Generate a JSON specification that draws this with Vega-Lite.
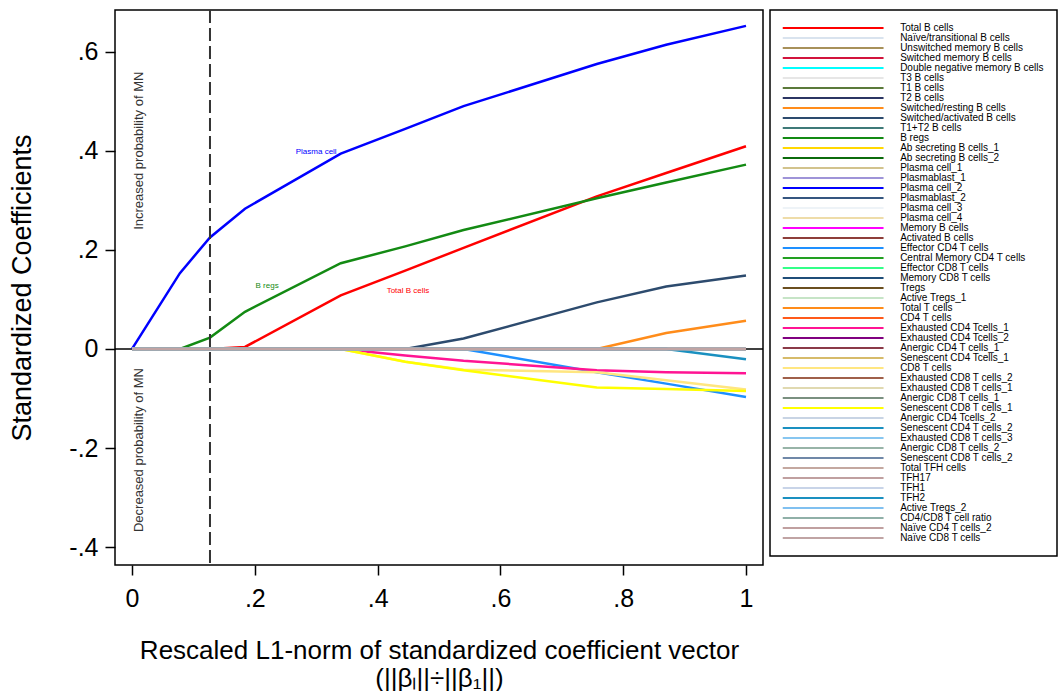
{
  "$schema": "https://vega.github.io/schema/vega-lite/v6.json",
  "width": 648,
  "height": 555,
  "padding": {"left": 8, "top": 9, "right": 0, "bottom": 0},
  "background": "white",
  "config": {
    "font": "Liberation Sans",
    "view": {"stroke": "black", "strokeWidth": 1.5},
    "axis": {
      "grid": false,
      "domain": false,
      "tickColor": "black",
      "tickWidth": 1.5,
      "tickSize": 10,
      "labelColor": "black",
      "titleColor": "black",
      "labelFont": "Liberation Sans",
      "titleFont": "Liberation Sans",
      "labelFontSize": 25,
      "titleFontSize": 27,
      "titleFontWeight": "normal"
    },
    "legend": {"strokeWidth": 1.5}
  },
  "datasets": {
    "paths": [
      {"cell": "Total B cells", "x": 0, "y": 0},
      {"cell": "Total B cells", "x": 0.127, "y": 0},
      {"cell": "Total B cells", "x": 0.184, "y": 0.004},
      {"cell": "Total B cells", "x": 0.34, "y": 0.108},
      {"cell": "Total B cells", "x": 0.445, "y": 0.158},
      {"cell": "Total B cells", "x": 0.54, "y": 0.204},
      {"cell": "Total B cells", "x": 0.757, "y": 0.308},
      {"cell": "Total B cells", "x": 0.87, "y": 0.355},
      {"cell": "Total B cells", "x": 1, "y": 0.409},
      {"cell": "Naïve/transitional B cells", "x": 0, "y": 0},
      {"cell": "Naïve/transitional B cells", "x": 1, "y": 0},
      {"cell": "Unswitched memory B cells", "x": 0, "y": 0},
      {"cell": "Unswitched memory B cells", "x": 1, "y": 0},
      {"cell": "Switched memory B cells", "x": 0, "y": 0},
      {"cell": "Switched memory B cells", "x": 1, "y": 0},
      {"cell": "Double negative memory B cells", "x": 0, "y": 0},
      {"cell": "Double negative memory B cells", "x": 1, "y": 0},
      {"cell": "T3 B cells", "x": 0, "y": 0},
      {"cell": "T3 B cells", "x": 1, "y": 0},
      {"cell": "T1 B cells", "x": 0, "y": 0},
      {"cell": "T1 B cells", "x": 1, "y": 0},
      {"cell": "T2 B cells", "x": 0, "y": 0},
      {"cell": "T2 B cells", "x": 1, "y": 0},
      {"cell": "Switched/resting B cells", "x": 0, "y": 0},
      {"cell": "Switched/resting B cells", "x": 0.757, "y": 0},
      {"cell": "Switched/resting B cells", "x": 0.87, "y": 0.032},
      {"cell": "Switched/resting B cells", "x": 1, "y": 0.057},
      {"cell": "Switched/activated B cells", "x": 0, "y": 0},
      {"cell": "Switched/activated B cells", "x": 0.445, "y": 0},
      {"cell": "Switched/activated B cells", "x": 0.54, "y": 0.021},
      {"cell": "Switched/activated B cells", "x": 0.757, "y": 0.094},
      {"cell": "Switched/activated B cells", "x": 0.87, "y": 0.126},
      {"cell": "Switched/activated B cells", "x": 1, "y": 0.148},
      {"cell": "T1+T2 B cells", "x": 0, "y": 0},
      {"cell": "T1+T2 B cells", "x": 1, "y": 0},
      {"cell": "B regs", "x": 0, "y": 0},
      {"cell": "B regs", "x": 0.078, "y": 0},
      {"cell": "B regs", "x": 0.127, "y": 0.023},
      {"cell": "B regs", "x": 0.184, "y": 0.075},
      {"cell": "B regs", "x": 0.34, "y": 0.173},
      {"cell": "B regs", "x": 0.445, "y": 0.207},
      {"cell": "B regs", "x": 0.54, "y": 0.24},
      {"cell": "B regs", "x": 0.757, "y": 0.304},
      {"cell": "B regs", "x": 0.87, "y": 0.336},
      {"cell": "B regs", "x": 1, "y": 0.372},
      {"cell": "Ab secreting B cells_1", "x": 0, "y": 0},
      {"cell": "Ab secreting B cells_1", "x": 1, "y": 0},
      {"cell": "Ab secreting B cells_2", "x": 0, "y": 0},
      {"cell": "Ab secreting B cells_2", "x": 1, "y": 0},
      {"cell": "Plasma cell_1", "x": 0, "y": 0},
      {"cell": "Plasma cell_1", "x": 1, "y": 0},
      {"cell": "Plasmablast_1", "x": 0, "y": 0},
      {"cell": "Plasmablast_1", "x": 1, "y": 0},
      {"cell": "Plasma cell_2", "x": 0, "y": 0},
      {"cell": "Plasma cell_2", "x": 0.078, "y": 0.153},
      {"cell": "Plasma cell_2", "x": 0.127, "y": 0.225},
      {"cell": "Plasma cell_2", "x": 0.184, "y": 0.283},
      {"cell": "Plasma cell_2", "x": 0.34, "y": 0.394},
      {"cell": "Plasma cell_2", "x": 0.445, "y": 0.444},
      {"cell": "Plasma cell_2", "x": 0.54, "y": 0.49},
      {"cell": "Plasma cell_2", "x": 0.757, "y": 0.575},
      {"cell": "Plasma cell_2", "x": 0.87, "y": 0.614},
      {"cell": "Plasma cell_2", "x": 1, "y": 0.652},
      {"cell": "Plasmablast_2", "x": 0, "y": 0},
      {"cell": "Plasmablast_2", "x": 1, "y": 0},
      {"cell": "Plasma cell_3", "x": 0, "y": 0},
      {"cell": "Plasma cell_3", "x": 1, "y": 0},
      {"cell": "Plasma cell_4", "x": 0, "y": 0},
      {"cell": "Plasma cell_4", "x": 1, "y": 0},
      {"cell": "Memory B cells", "x": 0, "y": 0},
      {"cell": "Memory B cells", "x": 1, "y": 0},
      {"cell": "Activated B cells", "x": 0, "y": 0},
      {"cell": "Activated B cells", "x": 1, "y": 0},
      {"cell": "Effector CD4 T cells", "x": 0, "y": 0},
      {"cell": "Effector CD4 T cells", "x": 0.54, "y": 0},
      {"cell": "Effector CD4 T cells", "x": 0.757, "y": -0.047},
      {"cell": "Effector CD4 T cells", "x": 0.87, "y": -0.07},
      {"cell": "Effector CD4 T cells", "x": 1, "y": -0.097},
      {"cell": "Central Memory CD4 T cells", "x": 0, "y": 0},
      {"cell": "Central Memory CD4 T cells", "x": 1, "y": 0},
      {"cell": "Effector CD8 T cells", "x": 0, "y": 0},
      {"cell": "Effector CD8 T cells", "x": 1, "y": 0},
      {"cell": "Memory CD8 T cells", "x": 0, "y": 0},
      {"cell": "Memory CD8 T cells", "x": 1, "y": 0},
      {"cell": "Tregs", "x": 0, "y": 0},
      {"cell": "Tregs", "x": 1, "y": 0},
      {"cell": "Active Tregs_1", "x": 0, "y": 0},
      {"cell": "Active Tregs_1", "x": 1, "y": 0},
      {"cell": "Total T cells", "x": 0, "y": 0},
      {"cell": "Total T cells", "x": 1, "y": 0},
      {"cell": "CD4 T cells", "x": 0, "y": 0},
      {"cell": "CD4 T cells", "x": 1, "y": 0},
      {"cell": "Exhausted CD4 Tcells_1", "x": 0, "y": 0},
      {"cell": "Exhausted CD4 Tcells_1", "x": 0.34, "y": 0},
      {"cell": "Exhausted CD4 Tcells_1", "x": 0.445, "y": -0.013},
      {"cell": "Exhausted CD4 Tcells_1", "x": 0.54, "y": -0.024},
      {"cell": "Exhausted CD4 Tcells_1", "x": 0.757, "y": -0.043},
      {"cell": "Exhausted CD4 Tcells_1", "x": 0.87, "y": -0.047},
      {"cell": "Exhausted CD4 Tcells_1", "x": 1, "y": -0.049},
      {"cell": "Exhausted CD4 Tcells_2", "x": 0, "y": 0},
      {"cell": "Exhausted CD4 Tcells_2", "x": 1, "y": 0},
      {"cell": "Anergic CD4 T cells_1", "x": 0, "y": 0},
      {"cell": "Anergic CD4 T cells_1", "x": 1, "y": 0},
      {"cell": "Senescent CD4 Tcells_1", "x": 0, "y": 0},
      {"cell": "Senescent CD4 Tcells_1", "x": 1, "y": 0},
      {"cell": "CD8 T cells", "x": 0, "y": 0},
      {"cell": "CD8 T cells", "x": 0.34, "y": 0},
      {"cell": "CD8 T cells", "x": 0.445, "y": -0.026},
      {"cell": "CD8 T cells", "x": 0.54, "y": -0.042},
      {"cell": "CD8 T cells", "x": 0.757, "y": -0.047},
      {"cell": "CD8 T cells", "x": 0.87, "y": -0.063},
      {"cell": "CD8 T cells", "x": 1, "y": -0.082},
      {"cell": "Exhausted CD8 T cells_2", "x": 0, "y": 0},
      {"cell": "Exhausted CD8 T cells_2", "x": 1, "y": 0},
      {"cell": "Exhausted CD8 T cells_1", "x": 0, "y": 0},
      {"cell": "Exhausted CD8 T cells_1", "x": 1, "y": 0},
      {"cell": "Anergic CD8 T cells_1", "x": 0, "y": 0},
      {"cell": "Anergic CD8 T cells_1", "x": 1, "y": 0},
      {"cell": "Senescent CD8 T cells_1", "x": 0, "y": 0},
      {"cell": "Senescent CD8 T cells_1", "x": 0.34, "y": 0},
      {"cell": "Senescent CD8 T cells_1", "x": 0.445, "y": -0.026},
      {"cell": "Senescent CD8 T cells_1", "x": 0.54, "y": -0.043},
      {"cell": "Senescent CD8 T cells_1", "x": 0.757, "y": -0.078},
      {"cell": "Senescent CD8 T cells_1", "x": 0.87, "y": -0.081},
      {"cell": "Senescent CD8 T cells_1", "x": 1, "y": -0.085},
      {"cell": "Anergic CD4 Tcells_2", "x": 0, "y": 0},
      {"cell": "Anergic CD4 Tcells_2", "x": 1, "y": 0},
      {"cell": "Senescent CD4 T cells_2", "x": 0, "y": 0},
      {"cell": "Senescent CD4 T cells_2", "x": 1, "y": 0},
      {"cell": "Exhausted CD8 T cells_3", "x": 0, "y": 0},
      {"cell": "Exhausted CD8 T cells_3", "x": 1, "y": 0},
      {"cell": "Anergic CD8 T cells_2", "x": 0, "y": 0},
      {"cell": "Anergic CD8 T cells_2", "x": 1, "y": 0},
      {"cell": "Senescent CD8 T cells_2", "x": 0, "y": 0},
      {"cell": "Senescent CD8 T cells_2", "x": 1, "y": 0},
      {"cell": "Total TFH cells", "x": 0, "y": 0},
      {"cell": "Total TFH cells", "x": 1, "y": 0},
      {"cell": "TFH17", "x": 0, "y": 0},
      {"cell": "TFH17", "x": 1, "y": 0},
      {"cell": "TFH1", "x": 0, "y": 0},
      {"cell": "TFH1", "x": 1, "y": 0},
      {"cell": "TFH2", "x": 0, "y": 0},
      {"cell": "TFH2", "x": 0.87, "y": 0},
      {"cell": "TFH2", "x": 1, "y": -0.021},
      {"cell": "Active Tregs_2", "x": 0, "y": 0},
      {"cell": "Active Tregs_2", "x": 1, "y": 0},
      {"cell": "CD4/CD8 T cell ratio", "x": 0, "y": 0},
      {"cell": "CD4/CD8 T cell ratio", "x": 1, "y": 0},
      {"cell": "Naïve CD4 T cells_2", "x": 0, "y": 0},
      {"cell": "Naïve CD4 T cells_2", "x": 1, "y": 0},
      {"cell": "Naïve CD8 T cells", "x": 0, "y": 0},
      {"cell": "Naïve CD8 T cells", "x": 1, "y": 0}
    ]
  },
  "layer": [
    {
      "data": {"values": [{"y": 0}]},
      "mark": {"type": "rule", "color": "black", "strokeWidth": 1.5},
      "encoding": {
        "y": {"field": "y", "type": "quantitative", "scale": {"domain": [-0.436, 0.684], "nice": false, "zero": false}}
      }
    },
    {
      "data": {"name": "paths"},
      "mark": {"type": "line", "strokeWidth": 2.5},
      "encoding": {
        "x": {
          "field": "x", "type": "quantitative",
          "scale": {"domain": [-0.0277, 1.0277], "nice": false, "zero": false},
          "axis": {
            "values": [0, 0.2, 0.4, 0.6, 0.8, 1],
            "labelExpr": "(datum.value < 0 ? '-' : '') + replace(format(abs(datum.value), '.1~f'), '0.', '.')",
            "labelPadding": 11,
            "title": ["Rescaled L1-norm of standardized coefficient vector", "(||βₗ||÷||β₁||)"],
            "titleFontSize": 26,
            "titleLineHeight": 28,
            "titlePadding": 26
          }
        },
        "y": {
          "field": "y", "type": "quantitative",
          "scale": {"domain": [-0.436, 0.684], "nice": false, "zero": false},
          "axis": {
            "values": [-0.4, -0.2, 0, 0.2, 0.4, 0.6],
            "labelExpr": "(datum.value < 0 ? '-' : '') + replace(format(abs(datum.value), '.1~f'), '0.', '.')",
            "labelPadding": 7,
            "title": "Standardized Coefficients",
            "titlePadding": 32
          }
        },
        "color": {
          "field": "cell", "type": "nominal",
          "scale": {
            "domain": ["Total B cells", "Naïve/transitional B cells", "Unswitched memory B cells", "Switched memory B cells", "Double negative memory B cells", "T3 B cells", "T1 B cells", "T2 B cells", "Switched/resting B cells", "Switched/activated B cells", "T1+T2 B cells", "B regs", "Ab secreting B cells_1", "Ab secreting B cells_2", "Plasma cell_1", "Plasmablast_1", "Plasma cell_2", "Plasmablast_2", "Plasma cell_3", "Plasma cell_4", "Memory B cells", "Activated B cells", "Effector CD4 T cells", "Central Memory CD4 T cells", "Effector CD8 T cells", "Memory CD8 T cells", "Tregs", "Active Tregs_1", "Total T cells", "CD4 T cells", "Exhausted CD4 Tcells_1", "Exhausted CD4 Tcells_2", "Anergic CD4 T cells_1", "Senescent CD4 Tcells_1", "CD8 T cells", "Exhausted CD8 T cells_2", "Exhausted CD8 T cells_1", "Anergic CD8 T cells_1", "Senescent CD8 T cells_1", "Anergic CD4 Tcells_2", "Senescent CD4 T cells_2", "Exhausted CD8 T cells_3", "Anergic CD8 T cells_2", "Senescent CD8 T cells_2", "Total TFH cells", "TFH17", "TFH1", "TFH2", "Active Tregs_2", "CD4/CD8 T cell ratio", "Naïve CD4 T cells_2", "Naïve CD8 T cells"],
            "range": ["#FF0000", "#D9E3EE", "#A8915A", "#D2143C", "#00FFFF", "#E6E6E6", "#5B7A3A", "#2B3563", "#FF8C1A", "#2D4B6E", "#3F7A78", "#138A13", "#FFD700", "#0B6B0B", "#D2C38C", "#9E94D8", "#0000FF", "#355680", "#EEF3F7", "#EEDCA8", "#FF00FF", "#8E3E3A", "#1E90FF", "#22A022", "#33FF88", "#1F4E79", "#6B4F1F", "#C6E4C6", "#FF8C1A", "#FF5A1A", "#FF1493", "#800080", "#8B3A48", "#D6BB6A", "#FFE680", "#A0604A", "#E0D9B0", "#7A9080", "#FFFF00", "#C8D4E4", "#1A90C0", "#87C6F0", "#98B4A8", "#7088A8", "#C4A8A0", "#C0A0A0", "#C8D4E8", "#1A90C0", "#80C0F0", "#90B0A8", "#C0A0A0", "#C0A4A4"]
          },
          "legend": {
            "orient": "none",
            "legendX": 655,
            "legendY": 0,
            "direction": "vertical",
            "columns": 1,
            "title": null,
            "symbolType": "M-12.6,0H12.6",
            "symbolSize": 64,
            "symbolStrokeWidth": 2,
            "symbolOffset": 45.15,
            "labelOffset": 62,
            "labelFont": "Liberation Sans",
            "labelFontSize": 10,
            "labelColor": "black",
            "labelLimit": 300,
            "rowPadding": 0,
            "padding": 13,
            "strokeColor": "black",
            "fillColor": "white",
            "symbolLimit": 60
          }
        }
      }
    },
    {
      "data": {"values": [{"x": 0.127}]},
      "mark": {"type": "rule", "color": "#333333", "strokeWidth": 2, "strokeDash": [13, 5]},
      "encoding": {
        "x": {"field": "x", "type": "quantitative", "scale": {"domain": [-0.0277, 1.0277], "nice": false, "zero": false}}
      }
    },
    {
      "data": {"values": [
        {"label": "Plasma cell", "cell": "Plasma cell_2", "x": 0.30, "y": 0.398},
        {"label": "B regs", "cell": "B regs", "x": 0.22, "y": 0.127},
        {"label": "Total B cells", "cell": "Total B cells", "x": 0.4495, "y": 0.117}
      ]},
      "mark": {"type": "text", "fontSize": 8, "font": "Liberation Sans"},
      "encoding": {
        "x": {"field": "x", "type": "quantitative", "scale": {"domain": [-0.0277, 1.0277], "nice": false, "zero": false}},
        "y": {"field": "y", "type": "quantitative", "scale": {"domain": [-0.436, 0.684], "nice": false, "zero": false}},
        "text": {"field": "label"},
        "color": {"field": "cell", "type": "nominal", "legend": null}
      }
    },
    {
      "data": {"values": [
        {"label": "Increased probability of MN", "x": 0.0114, "y": 0.4},
        {"label": "Decreased probability of MN", "x": 0.0114, "y": -0.204}
      ]},
      "mark": {"type": "text", "fontSize": 13, "font": "Liberation Sans", "angle": 270, "color": "#333333", "align": "center", "baseline": "middle"},
      "encoding": {
        "x": {"field": "x", "type": "quantitative", "scale": {"domain": [-0.0277, 1.0277], "nice": false, "zero": false}},
        "y": {"field": "y", "type": "quantitative", "scale": {"domain": [-0.436, 0.684], "nice": false, "zero": false}},
        "text": {"field": "label"}
      }
    }
  ]
}
